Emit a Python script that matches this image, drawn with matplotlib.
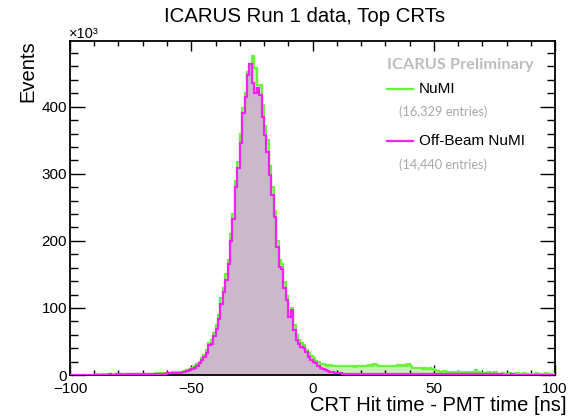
import numpy as np
import matplotlib
matplotlib.use("Agg")
import matplotlib.pyplot as plt
from matplotlib.ticker import MultipleLocator

# histogram bin edges, 1 ns bins
edges = np.arange(-100, 101, 1)

# NuMI, events per bin (x10^3)
numi = [
    0.4, 0.5, 0.3, 0.6, 0.5, 0.4, 0.7, 0.5, 0.6, 0.4,
    0.6, 0.8, 0.5, 0.9, 0.7, 0.8, 1.0, 0.7, 0.9, 1.1,
    1.0, 1.6, 0.9, 1.5, 1.2, 1.8, 1.1, 1.6, 1.3, 1.7,
    1.5, 1.9, 1.6, 2.2, 1.8, 2.6, 2.3, 3.0, 3.5, 3.2,
    3.6, 3.4, 3.8, 4.2, 4.0, 4.6, 5.2, 6.0, 7.0, 8.5,
    10.5, 13, 16, 20, 25, 30, 37, 47, 52, 62,
    75, 90, 115, 130, 150, 172, 210, 240, 290, 318,
    360, 398, 420, 452, 462, 476, 458, 432, 432, 403,
    372, 350, 312, 280, 245, 200, 172, 165, 138, 118,
    96, 100, 74, 60, 52, 48, 44, 38, 33, 28,
    25, 21, 19, 17, 16, 15, 14, 15, 14, 13,
    14, 13, 14, 13, 13, 14, 13, 12, 13, 14,
    13, 13, 14, 15, 14, 16, 15, 14, 13, 14,
    14, 13, 14, 13, 14, 15, 14, 15, 14, 16,
    13, 10, 10, 11, 10, 9, 10, 9, 10, 9,
    7, 6, 5, 5, 6, 5, 5, 4, 5, 5,
    4, 5, 4, 4, 4, 5, 5, 7, 4, 3,
    3, 3, 4, 3, 2, 4, 2, 2, 3, 2,
    2, 3, 2, 2, 3, 2, 2, 3, 2, 2,
    2, 2, 3, 2, 2, 2, 3, 2, 2, 2,
]

# Off-Beam NuMI, events per bin (x10^3)
offbeam = [
    0.3, 0.4, 0.3, 0.5, 0.4, 0.3, 0.6, 0.4, 0.5, 0.3,
    0.5, 0.6, 0.4, 0.7, 0.5, 0.6, 0.8, 0.5, 0.7, 0.9,
    0.8, 1.0, 0.7, 1.1, 0.9, 1.2, 1.0, 1.3, 1.1, 1.4,
    1.2, 1.5, 1.3, 1.7, 1.5, 1.9, 1.6, 2.0, 2.2, 2.0,
    2.4, 2.6, 2.5, 3.0, 3.2, 3.5, 4.0, 4.8, 5.5, 7.0,
    9, 11, 14, 18, 22, 27, 33, 44, 46, 58,
    68, 84, 106, 124, 142, 165, 200, 232, 280, 308,
    346, 390, 415, 448, 463, 436, 421, 428, 418, 385,
    358, 333, 298, 269, 236, 191, 161, 158, 130, 112,
    87, 97, 67, 52, 46, 42, 40, 34, 27, 22,
    20, 18, 14, 11, 9, 7, 6, 5, 4, 3.5,
    3, 2.5, 2.2, 2.0, 2.1, 1.8, 2.0, 1.9, 1.7, 2.0,
    1.8, 1.9, 2.0, 1.7, 1.8, 2.1, 1.9, 1.6, 1.8, 1.7,
    1.9, 1.6, 1.8, 1.7, 1.5, 1.8, 1.6, 1.7, 1.5, 1.6,
    1.4, 1.6, 1.5, 1.3, 1.5, 1.4, 1.2, 1.4, 1.3, 1.2,
    1.3, 1.1, 1.2, 1.0, 1.2, 1.1, 1.0, 1.2, 0.9, 1.0,
    1.1, 0.9, 1.0, 0.8, 1.0, 0.9, 0.8, 1.0, 0.9, 0.8,
    0.9, 0.7, 0.8, 0.9, 0.7, 0.8, 0.6, 0.8, 0.7, 0.6,
    0.7, 0.6, 0.8, 0.6, 0.7, 0.5, 0.6, 0.7, 0.5, 0.6,
    0.5, 0.6, 0.4, 0.6, 0.5, 0.4, 0.6, 0.5, 0.4, 0.5,
]

x_ticks = [-100, -50, 0, 50, 100]
x_labels = ["\u2212100", "\u221250", "0", "50", "100"]
y_ticks = [0, 100, 200, 300, 400]

green_line = "#6cf23e"
green_fill = "#c4f2b2"
mag_line = "#f023f0"
mag_fill = "#cbb9cb"

plt.rcParams["font.family"] = ["Liberation Sans", "DejaVu Sans"]

fig = plt.figure(figsize=(5.76, 4.19), dpi=100)
ax = fig.add_axes([70 / 576, 44 / 419, 485 / 576, 334 / 419])

ax.stairs(numi, edges, fill=True, color=green_fill, zorder=1)
ax.stairs(offbeam, edges, fill=True, color=mag_fill, zorder=2)
ax.stairs(numi, edges, color=green_line, linewidth=1.6, zorder=3)
ax.stairs(offbeam, edges, color=mag_line, linewidth=1.6, zorder=4)

ax.set_xlim(-100, 100)
ax.set_ylim(0, 498)

ax.xaxis.set_minor_locator(MultipleLocator(10))
ax.yaxis.set_minor_locator(MultipleLocator(20))
ax.set_xticks(x_ticks)
ax.set_xticklabels(x_labels)
ax.set_yticks(y_ticks)

ax.tick_params(axis="both", which="both", direction="in", top=True, right=True,
               labelsize=11, width=1.0)
ax.tick_params(axis="x", which="major", length=7, pad=5)
ax.tick_params(axis="x", which="minor", length=3.5)
ax.tick_params(axis="y", which="major", length=11, pad=2)
ax.tick_params(axis="y", which="minor", length=5.5)
for s in ax.spines.values():
    s.set_linewidth(1.3)

fig.text(305 / 576, 1 - 17 / 419, "ICARUS Run 1 data, Top CRTs", fontsize=14.7,
         ha="center", va="center")
fig.text(28 / 576, 1 - 40 / 419, "Events", fontsize=14.5, rotation=90,
         ha="center", va="top")
fig.text(566 / 576, 1 - 405 / 419, "CRT Hit time - PMT time [ns]", fontsize=14.5,
         ha="right", va="center")
fig.text(69 / 576, 1 - 34 / 419, "\u00d710\u00b3", fontsize=10.5, ha="left", va="center")

# legend block
fig.text(460 / 576, 1 - 65 / 419, "ICARUS Preliminary", fontsize=11.8, color="#bdbdbd",
         fontweight="bold", family="Lato", ha="center", va="center")
fig.add_artist(plt.Line2D([387 / 576, 413 / 576], [1 - 89 / 419] * 2,
                          color=green_line, linewidth=1.6))
fig.text(419 / 576, 1 - 89 / 419, "NuMI", fontsize=11, ha="left", va="center")
fig.text(399 / 576, 1 - 112 / 419, "(16,329 entries)", fontsize=9.2, color="#a8a8a8",
         family="Lato", ha="left", va="center")
fig.add_artist(plt.Line2D([387 / 576, 413 / 576], [1 - 141 / 419] * 2,
                          color=mag_line, linewidth=1.6))
fig.text(419 / 576, 1 - 141 / 419, "Off-Beam NuMI", fontsize=11, ha="left", va="center")
fig.text(399 / 576, 1 - 165 / 419, "(14,440 entries)", fontsize=9.2, color="#a8a8a8",
         family="Lato", ha="left", va="center")

plt.savefig("out.png", dpi=100)
